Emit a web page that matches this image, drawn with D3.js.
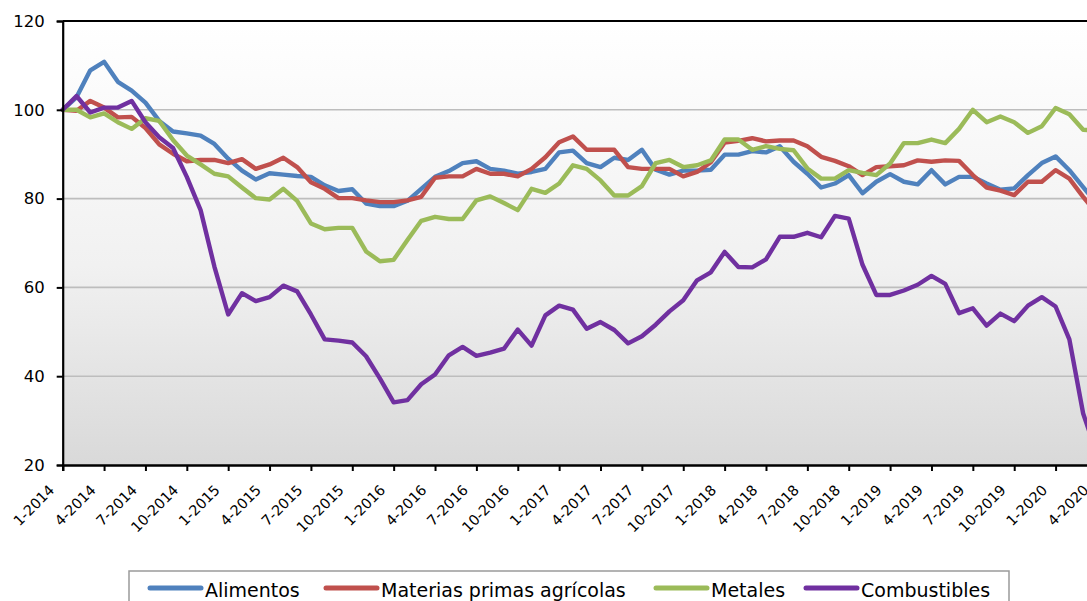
<!DOCTYPE html>
<html>
<head>
<meta charset="utf-8">
<script src="https://cdn.jsdelivr.net/npm/d3@7"></script>
<style>
  html, body { margin: 0; padding: 0; background: #ffffff; }
  svg { display: block; font-family: "DejaVu Sans", Verdana, sans-serif; }
</style>
</head>
<body>
<svg id="chart" width="1087" height="601"></svg>
<script>
const months = [
  "1-2014","2-2014","3-2014","4-2014","5-2014","6-2014","7-2014","8-2014","9-2014","10-2014","11-2014","12-2014",
  "1-2015","2-2015","3-2015","4-2015","5-2015","6-2015","7-2015","8-2015","9-2015","10-2015","11-2015","12-2015",
  "1-2016","2-2016","3-2016","4-2016","5-2016","6-2016","7-2016","8-2016","9-2016","10-2016","11-2016","12-2016",
  "1-2017","2-2017","3-2017","4-2017","5-2017","6-2017","7-2017","8-2017","9-2017","10-2017","11-2017","12-2017",
  "1-2018","2-2018","3-2018","4-2018","5-2018","6-2018","7-2018","8-2018","9-2018","10-2018","11-2018","12-2018",
  "1-2019","2-2019","3-2019","4-2019","5-2019","6-2019","7-2019","8-2019","9-2019","10-2019","11-2019","12-2019",
  "1-2020","2-2020","3-2020","4-2020"
];

const tickLabels = [
  "1-2014","4-2014","7-2014","10-2014","1-2015","4-2015","7-2015","10-2015",
  "1-2016","4-2016","7-2016","10-2016","1-2017","4-2017","7-2017","10-2017",
  "1-2018","4-2018","7-2018","10-2018","1-2019","4-2019","7-2019","10-2019",
  "1-2020","4-2020"
];

const yTicks = [20, 40, 60, 80, 100, 120];

const alimentos = [
  100, 102.8, 108.9, 110.8, 106.3, 104.3, 101.6, 97.5, 95.1, 94.7, 94.2, 92.3,
  89, 86.3, 84.3, 85.7, 85.4, 85.1, 84.9, 83, 81.7, 82.1, 78.9, 78.3,
  78.3, 79.5, 82.2, 84.9, 86.2, 88, 88.4, 86.7, 86.3, 85.6, 86, 86.7,
  90.4, 90.8, 88, 87.1, 89.2, 88.7, 91, 86.5, 85.4, 86.3, 86.3, 86.5,
  89.9, 89.9, 90.7, 90.4, 91.8, 88.3, 85.6, 82.5, 83.4, 85.3, 81.2, 83.8,
  85.5, 83.8, 83.2, 86.4, 83.2, 84.9, 84.9, 83.4, 82, 82.3, 85.3, 88,
  89.5, 86.4, 82.6, 78.8
];

const materiasPrimas = [
  100, 99.8, 102, 100.5, 98.3, 98.4, 95.9, 92.2, 90.1, 88.4, 88.7, 88.7,
  88, 88.9, 86.7, 87.7, 89.2, 87.1, 83.7, 82.2, 80.1, 80.1, 79.6, 79.2,
  79.2, 79.6, 80.4, 84.7, 85, 85, 86.7, 85.6, 85.6, 85, 86.7, 89.3,
  92.7, 94, 91, 91, 91, 87.1, 86.7, 86.7, 86.7, 85, 86, 88.2,
  92.6, 93, 93.6, 92.9, 93.1, 93.1, 91.8, 89.4, 88.5, 87.3, 85.3, 87.1,
  87.3, 87.5, 88.6, 88.3, 88.6, 88.5, 85.3, 82.5, 81.8, 80.8, 83.8, 83.8,
  86.4, 84.5, 80.4, 76.6
];

const metales = [
  100, 100, 98.3, 99.2, 97.2, 95.7, 98.1, 97.5, 93.2, 89.7, 87.7, 85.6,
  85, 82.5, 80.1, 79.8, 82.2, 79.5, 74.4, 73.1, 73.4, 73.4, 68.1, 65.9,
  66.2, 70.7, 75, 75.9, 75.4, 75.4, 79.6, 80.5, 79, 77.4, 82.2, 81.3,
  83.4, 87.5, 86.7, 84.1, 80.7, 80.7, 82.8, 88, 88.7, 87.1, 87.5, 88.6,
  93.3, 93.3, 91, 91.8, 91.2, 90.9, 86.8, 84.5, 84.5, 86.4, 85.8, 85.3,
  87.9, 92.5, 92.5, 93.3, 92.5, 95.7, 100, 97.2, 98.5, 97.2, 94.8, 96.3,
  100.4, 99, 95.5, 95.3
];

const combustibles = [
  100, 103.1, 99.4, 100.5, 100.5, 102, 97.2, 93.8, 91.4, 84.9, 77.4, 64.7,
  53.9, 58.7, 56.9, 57.8, 60.4, 59.1, 53.9, 48.3, 48, 47.6, 44.5, 39.5,
  34.1, 34.6, 38.2, 40.4, 44.7, 46.6, 44.6, 45.3, 46.2, 50.5, 46.9, 53.7,
  55.9, 55, 50.7, 52.2, 50.4, 47.4, 49, 51.6, 54.6, 57.1, 61.6, 63.4,
  68, 64.6, 64.5, 66.3, 71.4, 71.4, 72.3, 71.3, 76.1, 75.5, 65.1, 58.3,
  58.3, 59.3, 60.6, 62.6, 60.8, 54.2, 55.3, 51.4, 54.1, 52.4, 55.9, 57.8,
  55.7, 48.3, 31.6, 22.5
];

const seriesNames = ["Alimentos", "Materias primas agrícolas", "Metales", "Combustibles"];
const seriesColors = ["#4F81BD", "#C0504D", "#9BBB59", "#7030A0"];
const seriesValues = [alimentos, materiasPrimas, metales, combustibles];

// ---- layout ----
const plotLeft = 62.7, plotTop = 21, plotBottom = 465;
const monthStep = 13.79;
const plotRight = plotLeft + monthStep * (months.length - 1);

const svg = d3.select("#chart");

const x = d3.scalePoint().domain(months).range([plotLeft, plotRight]);
const y = d3.scaleLinear().domain([20, 120]).range([plotBottom, plotTop]);

// background gradient
const defs = svg.append("defs");
const grad = defs.append("linearGradient").attr("id", "bg")
  .attr("x1", 0).attr("y1", 0).attr("x2", 0).attr("y2", 1);
grad.append("stop").attr("offset", "0%").attr("stop-color", "#ffffff");
grad.append("stop").attr("offset", "55%").attr("stop-color", "#f1f1f1");
grad.append("stop").attr("offset", "100%").attr("stop-color", "#d9d9d9");

svg.append("rect")
  .attr("x", plotLeft).attr("y", plotTop)
  .attr("width", plotRight + 20 - plotLeft).attr("height", plotBottom - plotTop)
  .attr("fill", "url(#bg)");

// gridlines
svg.append("g").selectAll("line")
  .data(yTicks.filter(v => v > 20 && v < 120))
  .join("line")
  .attr("x1", plotLeft).attr("x2", plotRight + 20)
  .attr("y1", d => y(d)).attr("y2", d => y(d))
  .attr("stroke", "#bdbdbd").attr("stroke-width", 1.6);

// top border
svg.append("line")
  .attr("x1", plotLeft).attr("x2", plotRight + 20)
  .attr("y1", y(120)).attr("y2", y(120))
  .attr("stroke", "#000").attr("stroke-width", 2);

// lines
const line = d3.line()
  .x((d, i) => x(months[i]))
  .y(d => y(d));

svg.append("g").selectAll("path")
  .data(seriesValues)
  .join("path")
  .attr("d", d => line(d))
  .attr("fill", "none")
  .attr("stroke", (d, i) => seriesColors[i])
  .attr("stroke-width", 4.4)
  .attr("stroke-linejoin", "round")
  .attr("stroke-linecap", "round");

// y axis
const yAxis = d3.axisLeft(y).tickValues(yTicks).tickSize(6).tickPadding(12);
const gy = svg.append("g").attr("transform", `translate(${plotLeft},0)`).call(yAxis);
gy.select(".domain").attr("stroke", "#000").attr("stroke-width", 2.2);
gy.selectAll(".tick line").attr("stroke", "#000").attr("stroke-width", 2);
gy.selectAll(".tick text").attr("font-size", 16.5).attr("fill", "#000")
  .attr("font-family", "DejaVu Sans, Verdana, sans-serif");

// x axis
const xAxis = d3.axisBottom(x).tickValues(tickLabels.filter(t => months.includes(t))).tickSize(6).tickPadding(0);
const gx = svg.append("g").attr("transform", `translate(0,${plotBottom})`).call(xAxis);
gx.select(".domain").attr("stroke", "#000").attr("stroke-width", 2.4);
gx.selectAll(".tick line").attr("stroke", "#000").attr("stroke-width", 2);
gx.selectAll(".tick text")
  .attr("font-size", 14.3).attr("fill", "#000")
  .attr("font-family", "DejaVu Sans, Verdana, sans-serif")
  .attr("text-anchor", "end")
  .attr("dy", 0)
  .attr("y", 0)
  .attr("transform", "translate(-8,26) rotate(-45)");

// legend
const legendBox = { x: 129, y: 571, w: 880, h: 45 };
svg.append("rect")
  .attr("x", legendBox.x).attr("y", legendBox.y)
  .attr("width", legendBox.w).attr("height", legendBox.h)
  .attr("fill", "#ffffff").attr("stroke", "#9a9a9a").attr("stroke-width", 1.5);

const legendX = [150, 326, 656, 806];
const lg = svg.append("g").selectAll("g")
  .data(seriesNames)
  .join("g")
  .attr("transform", (d, i) => `translate(${legendX[i]},0)`);
lg.append("line")
  .attr("x1", 0).attr("x2", 51).attr("y1", 588).attr("y2", 588)
  .attr("stroke", (d, i) => seriesColors[i])
  .attr("stroke-width", 5).attr("stroke-linecap", "round");
lg.append("text")
  .attr("x", 55).attr("y", 596.5)
  .attr("font-size", 19).attr("fill", "#000")
  .text(d => d);
</script>
</body>
</html>
